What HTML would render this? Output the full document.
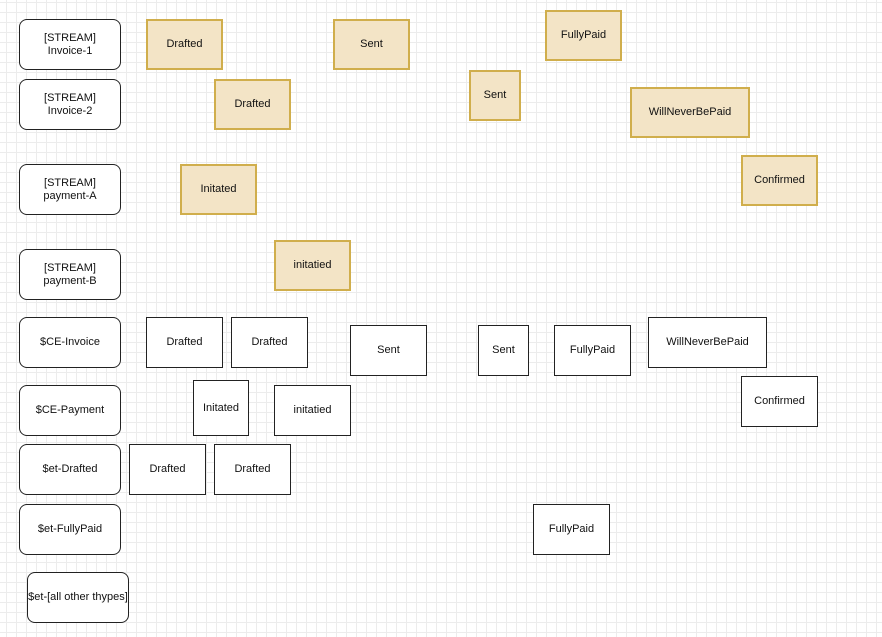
<!DOCTYPE html>
<html><head><meta charset="utf-8"><style>
html,body{margin:0;padding:0}
body{width:882px;height:637px;position:relative;overflow:hidden;background-color:#fff;
background-image:linear-gradient(to right,#ececec 1px,transparent 1px),linear-gradient(to bottom,#ececec 1px,transparent 1px);
background-size:10px 10px;background-position:6px 2px;font-family:"Liberation Sans",sans-serif;font-size:11px;color:#111}
.b{position:absolute;box-sizing:border-box;display:flex;align-items:center;justify-content:center;text-align:center;line-height:13px}
.r{border:1.3px solid #222;border-radius:8px;background:#fff}
.t{border:2px solid #d0ae4c;background:#f3e4c6}
.w{border:1.3px solid #222;background:#fff}
</style></head><body>
<div class="b r" style="left:19px;top:19px;width:102px;height:51px">[STREAM]<br>Invoice-1</div>
<div class="b r" style="left:19px;top:79px;width:102px;height:51px">[STREAM]<br>Invoice-2</div>
<div class="b r" style="left:19px;top:164px;width:102px;height:51px">[STREAM]<br>payment-A</div>
<div class="b r" style="left:19px;top:249px;width:102px;height:51px">[STREAM]<br>payment-B</div>
<div class="b r" style="left:19px;top:317px;width:102px;height:51px">$CE-Invoice</div>
<div class="b r" style="left:19px;top:385px;width:102px;height:51px">$CE-Payment</div>
<div class="b r" style="left:19px;top:444px;width:102px;height:51px">$et-Drafted</div>
<div class="b r" style="left:19px;top:504px;width:102px;height:51px">$et-FullyPaid</div>
<div class="b r" style="left:27px;top:572px;width:102px;height:51px">$et-[all other thypes]</div>

<div class="b t" style="left:146px;top:19px;width:77px;height:51px">Drafted</div>
<div class="b t" style="left:333px;top:19px;width:77px;height:51px">Sent</div>
<div class="b t" style="left:545px;top:10px;width:77px;height:51px">FullyPaid</div>
<div class="b t" style="left:214px;top:79px;width:77px;height:51px">Drafted</div>
<div class="b t" style="left:469px;top:70px;width:52px;height:51px">Sent</div>
<div class="b t" style="left:630px;top:87px;width:120px;height:51px">WillNeverBePaid</div>
<div class="b t" style="left:180px;top:164px;width:77px;height:51px">Initated</div>
<div class="b t" style="left:741px;top:155px;width:77px;height:51px">Confirmed</div>
<div class="b t" style="left:274px;top:240px;width:77px;height:51px">initatied</div>

<div class="b w" style="left:146px;top:317px;width:77px;height:51px">Drafted</div>
<div class="b w" style="left:231px;top:317px;width:77px;height:51px">Drafted</div>
<div class="b w" style="left:350px;top:325px;width:77px;height:51px">Sent</div>
<div class="b w" style="left:478px;top:325px;width:51px;height:51px">Sent</div>
<div class="b w" style="left:554px;top:325px;width:77px;height:51px">FullyPaid</div>
<div class="b w" style="left:648px;top:317px;width:119px;height:51px">WillNeverBePaid</div>
<div class="b w" style="left:193px;top:380px;width:56px;height:56px">Initated</div>
<div class="b w" style="left:274px;top:385px;width:77px;height:51px">initatied</div>
<div class="b w" style="left:741px;top:376px;width:77px;height:51px">Confirmed</div>
<div class="b w" style="left:129px;top:444px;width:77px;height:51px">Drafted</div>
<div class="b w" style="left:214px;top:444px;width:77px;height:51px">Drafted</div>
<div class="b w" style="left:533px;top:504px;width:77px;height:51px">FullyPaid</div>
</body></html>
